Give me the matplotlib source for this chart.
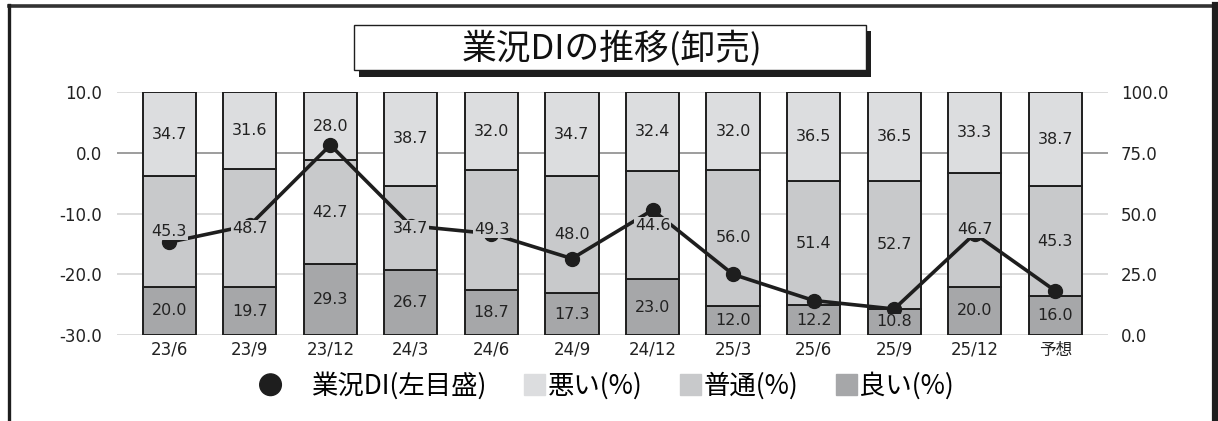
import numpy as np
import matplotlib.pyplot as plt
from matplotlib.patches import Rectangle, Patch, Circle
from matplotlib.lines import Line2D
from matplotlib.legend_handler import HandlerPatch

plt.rcParams['font.family'] = ['DejaVu Sans', 'Noto Sans CJK JP']

# データ
periods = ['23/6', '23/9', '23/12', '24/3', '24/6', '24/9', '24/12',
           '25/3', '25/6', '25/9', '25/12', '予想']
good = [20.0, 19.7, 29.3, 26.7, 18.7, 17.3, 23.0, 12.0, 12.2, 10.8, 20.0, 16.0]
normal = [45.3, 48.7, 42.7, 34.7, 49.3, 48.0, 44.6, 56.0, 51.4, 52.7, 46.7, 45.3]
bad = [34.7, 31.6, 28.0, 38.7, 32.0, 34.7, 32.4, 32.0, 36.5, 36.5, 33.3, 38.7]
di = [-14.7, -11.9, 1.3, -12.0, -13.3, -17.4, -9.4, -20.0, -24.3, -25.7, -13.3, -22.7]
left_ticks = [-30, -20, -10, 0, 10]
right_ticks = [0, 25, 50, 75, 100]

c_good = '#a6a7a9'
c_normal = '#c8c9cb'
c_bad = '#dcdddf'
dark = '#1e1e1e'
jp = ['Noto Sans CJK JP']

fig = plt.figure(figsize=(12.18, 4.21), dpi=100)
ax = fig.add_axes([0.096, 0.204, 0.814, 0.577])
ax2 = ax.twinx()
ax.set_zorder(ax2.get_zorder() + 1)
ax.patch.set_visible(False)

x = np.arange(len(periods))
w = 0.66
g = np.array(good)
n = np.array(normal)
b = np.array(bad)
ax2.bar(x, g, w, color=c_good, edgecolor=dark, linewidth=1.4, zorder=2)
ax2.bar(x, n, w, bottom=g, color=c_normal, edgecolor=dark, linewidth=1.4, zorder=2)
ax2.bar(x, b, w, bottom=g + n, color=c_bad, edgecolor=dark, linewidth=1.4, zorder=2)

# grid
for t in right_ticks:
    ax2.axhline(t, color='#8c8c8c' if t == 75 else '#d4d4d4', lw=1.2, zorder=0)

ax.plot(x, di, color=dark, lw=2.6, marker='o', markersize=10,
        markerfacecolor=dark, markeredgecolor=dark, zorder=3)

# 値ラベル
for i in range(len(x)):
    for val, bottom, col in [(good[i], 0, c_good), (normal[i], good[i], c_normal),
                             (bad[i], good[i] + normal[i], c_bad)]:
        ax.text(x[i], bottom + val / 2, f'{val:.1f}', transform=ax2.transData,
                ha='center', va='center', fontsize=11.5, color='#222222', zorder=5,
                bbox=dict(boxstyle='square,pad=0.05', fc=col, ec='none'))

ax.set_xlim(-0.65, 11.66)
ax.set_ylim(-30, 10)
ax2.set_ylim(0, 100)
ax.set_yticks(left_ticks)
ax.set_yticklabels([f'{v:.1f}' for v in left_ticks])
ax2.set_yticks(right_ticks)
ax2.set_yticklabels([f'{v:.1f}' for v in right_ticks])
ax.set_xticks(x)
ax.set_xticklabels(periods)
for a in (ax, ax2):
    for s in a.spines.values():
        s.set_visible(False)
    a.tick_params(length=0, labelsize=12, colors='#222222')
ax.tick_params(axis='y', pad=11)
ax2.tick_params(axis='y', pad=9)
ax.tick_params(axis='x', pad=4)

# タイトル
fig.add_artist(Rectangle((359 / 1218, 1 - 77 / 421), 512 / 1218, 46 / 421,
                         transform=fig.transFigure, fc=dark, ec='none'))
fig.add_artist(Rectangle((354 / 1218, 1 - 70 / 421), 512 / 1218, 45 / 421,
                         transform=fig.transFigure, fc='white', ec=dark, lw=1.0))
fig.text(612 / 1218, 1 - 49 / 421, '業況DIの推移(卸売)', family=jp, fontsize=25,
         ha='center', va='center', color='#111111')

# 外枠
fig.add_artist(Line2D([9 / 1218, 1], [1 - 5.5 / 421] * 2, transform=fig.transFigure,
                      color='#333333', lw=2.6))
fig.add_artist(Line2D([8.5 / 1218] * 2, [0, 1 - 5 / 421], transform=fig.transFigure,
                      color=dark, lw=2.4))
fig.add_artist(Line2D([1214.5 / 1218] * 2, [0, 1 - 5 / 421], transform=fig.transFigure,
                      color=dark, lw=5.2))


# 凡例
def square(legend, orig_handle, xdescent, ydescent, width, height, fontsize):
    s = 0.78 * fontsize
    return Rectangle((width - s - xdescent, height / 2 - s / 2 - ydescent), s, s)


def dot(legend, orig_handle, xdescent, ydescent, width, height, fontsize):
    return Circle((-11 - xdescent, height / 2 - ydescent), 0.41 * fontsize)


handles = [Patch(color=dark), Patch(color=c_bad), Patch(color=c_normal), Patch(color=c_good)]
labels = ['業況DI(左目盛)', '悪い(%)', '普通(%)', '良い(%)']
fig.legend(handles, labels, loc='center', bbox_to_anchor=(620 / 1218, 0.083), ncol=4,
           frameon=False, prop={'family': jp, 'size': 19}, handlelength=0.85,
           handletextpad=0.1, columnspacing=1.37,
           handler_map={handles[0]: HandlerPatch(patch_func=dot),
                        handles[1]: HandlerPatch(patch_func=square),
                        handles[2]: HandlerPatch(patch_func=square),
                        handles[3]: HandlerPatch(patch_func=square)})

fig.savefig('out.png', dpi=100)
